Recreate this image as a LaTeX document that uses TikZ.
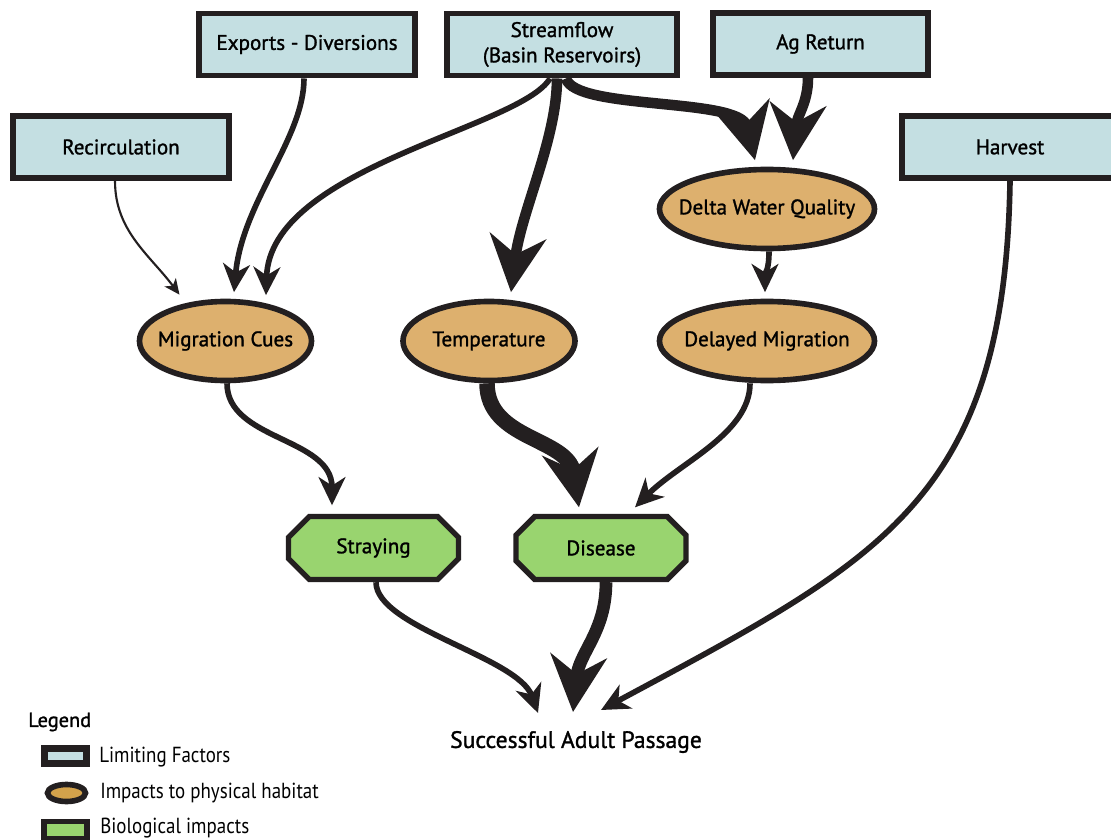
\documentclass[tikz,border=0pt]{standalone}
\usepackage{fontspec}
\setmainfont{PT Sans}
\newfontfamily\boxfont[FakeBold=1.3]{PT Sans}
\newfontfamily\keyfont[FakeStretch=0.87]{PT Sans}
\usetikzlibrary{shapes.geometric,shapes.misc,arrows.meta}
\definecolor{factorblue}{HTML}{C4DFE2}
\definecolor{habitattan}{HTML}{DDB06E}
\definecolor{biogreen}{HTML}{99D46F}
\definecolor{inkdark}{HTML}{231F20}
\definecolor{keytan}{HTML}{D3A24B}

\begin{document}
\begin{tikzpicture}[x=0.025cm,y=-0.025cm,
  factor/.style={draw=inkdark,fill=factorblue,line width=4.2pt,inner sep=0pt,minimum width=5.4cm,minimum height=1.55cm,font=\boxfont\fontsize{15}{18}\selectfont,align=center},
  habitat/.style={ellipse,draw=inkdark,fill=habitattan,line width=4pt,inner ysep=0pt,inner xsep=-9pt,minimum width=4.3cm,minimum height=1.975cm,font=\boxfont\fontsize{15}{18}\selectfont},
  impact/.style={chamfered rectangle,chamfered rectangle xsep=0.38cm,chamfered rectangle ysep=0.28cm,draw=inkdark,fill=biogreen,line width=3.8pt,inner sep=0pt,minimum width=4.25cm,minimum height=1.575cm,font=\boxfont\fontsize{15}{18}\selectfont},
  linkthin/.style={draw=inkdark,line width=1.5pt,-{Stealth[length=11pt,width=10pt,inset=3pt]}},
  linkmid/.style={draw=inkdark,line width=4pt,-{Stealth[length=20pt,width=19pt,inset=6pt]}},
  linkfat/.style={draw=inkdark,line width=7.5pt,-{Stealth[length=40pt,width=40pt,inset=13pt]}},
  keytext/.style={anchor=west,inner sep=0pt,font=\keyfont\fontsize{15.5}{17}\selectfont}]

\useasboundingbox (0,0) rectangle (1111,840);
\clip (0,0) rectangle (1111,840);

\node[factor] (exports) at (307,44.5) {Exports - Diversions};
\node[factor,minimum width=5.75cm] (streamflow) at (562,44.5) {Streamflow\\(Basin Reservoirs)};
\node[factor,minimum width=5.375cm] (agreturn) at (820.5,44) {Ag Return};
\node[factor] (recirc) at (121,147) {Recirculation};
\node[factor] (harvest) at (1010,147) {Harvest};

\node[habitat] (cues) at (225.5,341) {Migration Cues};
\node[habitat] (temp) at (489,341) {Temperature};
\node[habitat,minimum width=5.375cm] (quality) at (767,209) {Delta Water Quality};
\node[habitat,minimum width=5.375cm] (delayed) at (767,341) {Delayed Migration};

\node[impact] (straying) at (373.5,548) {Straying};
\node[impact] (disease) at (601,548) {Disease};

\node[inner sep=0pt,font=\boxfont\fontsize{16.8}{19}\selectfont] (passage) at (576,742) {Successful Adult Passage};

\draw[linkthin] ([shift={(-6,0)}]recirc.south) .. controls +(0,50) and +(-30,-40) .. ([shift={(-46,-4)}]cues.north);
\draw[linkmid] ([shift={(-3,0)}]exports.south) .. controls +(0,60) and +(8,-90) .. ([shift={(8.5,-6.5)}]cues.north);
\draw[linkmid] ([shift={(-12,0)}]streamflow.south) .. controls +(-30,50) and +(4,-128) .. ([shift={(40.5,-3.5)}]cues.north);
\draw[linkfat] ([shift={(-5,0)}]streamflow.south) .. controls +(0,60) and +(10,-80) .. ([shift={(22,-6.5)}]temp.north);
\draw[linkfat] ([shift={(4,0)}]streamflow.south) .. controls +(9,32) and +(-15,-63) .. ([shift={(-12,-6.5)}]quality.north);
\draw[linkfat] ([shift={(-12.5,0)}]agreturn.south) .. controls +(0,25) and +(4,-45) .. ([shift={(26,-6.5)}]quality.north);
\draw[linkmid] ([shift={(2,0)}]quality.south) .. controls +(0,20) and +(0,-20) .. ([shift={(-2,-6.5)}]delayed.north);

\draw[linkmid] ([shift={(1.5,0)}]cues.south) .. controls +(0,57) and +(0,-68) .. ([shift={(-41.5,-8.5)}]straying.north);
\draw[linkfat,line width=11pt] ([shift={(-2,0)}]temp.south) .. controls +(0,57) and +(-11,-70) .. ([shift={(-22,-6.5)}]disease.north);
\draw[linkmid] ([shift={(-17,0)}]delayed.south) .. controls +(0,50) and +(45,-45) .. ([shift={(34,-6.5)}]disease.north);

\draw[linkmid] ([shift={(2.5,0)}]straying.south) .. controls +(0,45) and +(-20,-56) .. ([shift={(-38,-29)}]passage.center);
\draw[linkfat,line width=9pt] ([shift={(5,0)}]disease.south) .. controls +(0,50) and +(6,-60) .. ([shift={(-3,-30)}]passage.center);
\draw[linkmid] (harvest.south) .. controls +(-5,320) and +(279,-150) .. ([shift={(25,-32)}]passage.center);

\node[inner sep=0pt,anchor=west,font=\boxfont\fontsize{14.5}{16}\selectfont] (legend) at (28,722) {Legend};
\node[factor,minimum width=1.05cm,minimum height=0.375cm,line width=5pt] (keyfactor) at (65.5,756) {};
\node[habitat,fill=keytan,inner xsep=0pt,minimum width=0.95cm,minimum height=0.425cm] (keyhabitat) at (66.5,793) {};
\node[impact,minimum width=1.07cm,minimum height=0.43cm,chamfered rectangle xsep=0.12cm,chamfered rectangle ysep=0.12cm] (keyimpact) at (65.5,830) {};
\node[keytext] (keyfactortext) at (99,757) {Limiting Factors};
\node[keytext] (keyhabitattext) at (100,793) {Impacts to physical habitat};
\node[keytext] (keyimpacttext) at (100,828) {Biological impacts};
\end{tikzpicture}
\end{document}
